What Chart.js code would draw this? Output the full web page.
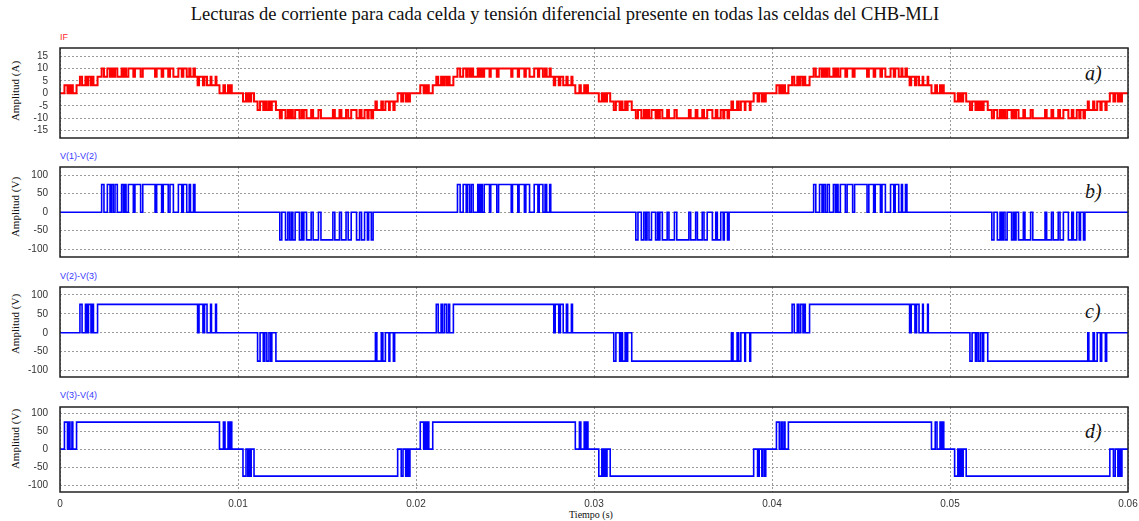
<!DOCTYPE html>
<html>
<head>
<meta charset="utf-8">
<script src="https://cdn.jsdelivr.net/npm/chart.js@4.4.1/dist/chart.umd.min.js"></script>
<style>
  body { margin: 0; width: 1139px; height: 521px; background: #fff; position: relative; overflow: hidden; }
  canvas { position: absolute; left: 0; }
  .txt { position: absolute; white-space: nowrap; }
  .serie { font: 9px 'Liberation Sans', Arial, sans-serif; left: 60px; }
  .letra { font: italic 20px 'Liberation Serif', 'Times New Roman', serif; left: 1085px; line-height: 20px; color: #111; }
  .ytit { font: 11px 'Liberation Serif', 'Times New Roman', serif; left: 15px; transform: translate(-50%, -50%) rotate(-90deg); color: #111; }
</style>
</head>
<body>
<div class="txt" style="left:565px; top:14px; transform:translate(-50%,-50%); font:18.5px 'Liberation Serif','Times New Roman',serif; color:#111;">Lecturas de corriente para cada celda y tensión diferencial presente en todas las celdas del CHB-MLI</div>

<div class="txt serie" style="top:32px; color:#ff2a2a;">IF</div>
<div class="txt serie" style="top:151px; color:#3a3aff;">V(1)-V(2)</div>
<div class="txt serie" style="top:271px; color:#3a3aff;">V(2)-V(3)</div>
<div class="txt serie" style="top:390px; color:#3a3aff;">V(3)-V(4)</div>

<div class="txt ytit" style="top:91px;">Amplitud (A)</div>
<div class="txt ytit" style="top:207px;">Amplitud (V)</div>
<div class="txt ytit" style="top:324px;">Amplitud (V)</div>
<div class="txt ytit" style="top:439px;">Amplitud (V)</div>

<div class="txt letra" style="top:63px;">a)</div>
<div class="txt letra" style="top:181px;">b)</div>
<div class="txt letra" style="top:301px;">c)</div>
<div class="txt letra" style="top:421px;">d)</div>

<div class="txt" style="left:591px; top:514px; transform:translate(-50%,-50%); font:10px 'Liberation Serif','Times New Roman',serif; color:#111;">Tiempo (s)</div>

<canvas id="panel-a" width="1139" height="110" style="top:38px"></canvas>
<canvas id="panel-b" width="1139" height="110" style="top:157px"></canvas>
<canvas id="panel-c" width="1139" height="110" style="top:277px"></canvas>
<canvas id="panel-d" width="1139" height="115" style="top:397px"></canvas>

<script>
// Eje de tiempo (s) y marcas de los ejes
const tiempoTicks = [0, 0.01, 0.02, 0.03, 0.04, 0.05, 0.06];
const ticksCorriente = [-15, -10, -5, 0, 5, 10, 15];
const ticksTension = [-100, -50, 0, 50, 100];

// Tensión de cada celda (V) y signo de cada semiciclo
const nivelCelda = 75;
const signoSemiciclo = [1, -1, 1, -1, 1, -1];

// Instantes de conmutación (ms) por semiciclo: cada instante cambia la celda entre 0 y ±75 V
const conmV12 = [
    [2.34, 2.47, 2.66, 2.81, 2.89, 2.99, 3.09, 3.22, 3.46, 3.56, 3.62, 3.71, 3.84, 4.12, 4.21, 4.53, 4.65, 5.34, 5.43, 5.71, 5.80, 6.08, 6.18, 6.37, 6.65, 6.84, 6.93, 7.12, 7.26, 7.33, 7.50, 7.58],
    [12.35, 12.46, 12.67, 12.80, 12.90, 13.00, 13.08, 13.21, 13.45, 13.57, 13.63, 13.70, 13.85, 14.11, 14.22, 14.52, 14.66, 15.33, 15.44, 15.70, 15.81, 16.07, 16.19, 16.36, 16.66, 16.83, 16.94, 17.11, 17.27, 17.34, 17.49, 17.59],
    [22.33, 22.48, 22.65, 22.82, 22.88, 23.00, 23.10, 23.21, 23.47, 23.55, 23.63, 23.72, 23.83, 24.13, 24.20, 24.54, 24.64, 25.35, 25.42, 25.72, 25.79, 26.09, 26.17, 26.38, 26.64, 26.85, 26.92, 27.13, 27.25, 27.34, 27.51, 27.57],
    [32.35, 32.47, 32.66, 32.80, 32.90, 32.98, 33.09, 33.23, 33.46, 33.57, 33.62, 33.70, 33.84, 34.11, 34.21, 34.52, 34.65, 35.33, 35.43, 35.71, 35.81, 36.08, 36.18, 36.36, 36.65, 36.84, 36.93, 37.12, 37.26, 37.32, 37.50, 37.59],
    [42.34, 42.46, 42.67, 42.81, 42.89, 42.99, 43.10, 43.22, 43.45, 43.56, 43.63, 43.71, 43.84, 44.12, 44.22, 44.53, 44.64, 45.34, 45.44, 45.71, 45.80, 46.09, 46.18, 46.37, 46.66, 46.84, 46.92, 47.12, 47.27, 47.33, 47.50, 47.58],
    [52.35, 52.47, 52.66, 52.81, 52.90, 52.99, 53.09, 53.21, 53.46, 53.56, 53.62, 53.71, 53.85, 54.12, 54.21, 54.53, 54.65, 55.34, 55.43, 55.70, 55.80, 56.08, 56.18, 56.37, 56.65, 56.84, 56.93, 57.12, 57.26, 57.33, 57.50, 57.58]
];
const conmV23 = [
    [1.12, 1.24, 1.43, 1.52, 1.60, 1.74, 1.83, 1.88, 2.11, 7.73, 7.81, 8.03, 8.12, 8.26, 8.46, 8.51, 8.74, 8.79],
    [11.10, 11.24, 11.42, 11.51, 11.62, 11.74, 11.84, 11.90, 12.13, 17.72, 17.80, 18.05, 18.14, 18.28, 18.48, 18.53, 18.73, 18.80],
    [21.14, 21.25, 21.41, 21.50, 21.61, 21.73, 21.84, 21.89, 22.10, 27.74, 27.82, 28.02, 28.11, 28.27, 28.45, 28.52, 28.73, 28.79],
    [31.11, 31.23, 31.44, 31.53, 31.60, 31.75, 31.82, 31.89, 32.12, 37.72, 37.81, 38.04, 38.13, 38.25, 38.47, 38.51, 38.75, 38.80],
    [41.13, 41.25, 41.42, 41.51, 41.61, 41.74, 41.83, 41.87, 42.11, 47.73, 47.82, 48.03, 48.12, 48.26, 48.46, 48.50, 48.74, 48.78],
    [51.12, 51.24, 51.43, 51.52, 51.62, 51.73, 51.84, 51.89, 52.12, 57.74, 57.80, 58.04, 58.11, 58.27, 58.45, 58.52, 58.73, 58.80]
];
const conmV34 = [
    [0.25, 0.42, 0.51, 0.56, 0.67, 0.72, 0.93, 8.96, 9.18, 9.27, 9.44, 9.49, 9.58, 9.65],
    [10.28, 10.45, 10.55, 10.61, 10.68, 10.74, 10.90, 18.97, 19.17, 19.27, 19.42, 19.50, 19.59, 19.66],
    [20.24, 20.43, 20.52, 20.57, 20.66, 20.72, 20.94, 28.95, 29.18, 29.26, 29.45, 29.50, 29.58, 29.66],
    [30.27, 30.44, 30.53, 30.60, 30.68, 30.73, 30.91, 38.97, 39.19, 39.28, 39.43, 39.49, 39.59, 39.65],
    [40.25, 40.41, 40.51, 40.57, 40.67, 40.73, 40.92, 48.96, 49.17, 49.27, 49.44, 49.50, 49.57, 49.65],
    [50.26, 50.44, 50.53, 50.59, 50.68, 50.74, 50.91, 58.98, 59.18, 59.28, 59.43, 59.50, 59.59, 59.66]
];

// Corriente IF: [instante (ms), nivel (A)] desde ese instante
const corrienteIF = [
    [0.25,3.3],[0.42,0],[0.51,3.3],[0.56,0],[0.67,3.3],[0.72,0],[0.93,3.3],
    [1.12,6.7],[1.24,3.3],[1.43,6.7],[1.52,3.3],[1.60,6.7],[1.74,3.3],[1.83,6.7],[1.88,3.3],[2.11,6.7],
    [2.34,10],[2.47,6.7],[2.66,10],[2.81,6.7],[2.89,10],[2.99,6.7],[3.09,10],[3.22,6.7],[3.46,10],[3.56,6.7],[3.62,10],[3.71,6.7],[3.84,10],[4.12,6.7],[4.21,10],[4.53,6.7],[4.65,10],[5.34,6.7],[5.43,10],[5.71,6.7],[5.80,10],[6.08,6.7],[6.18,10],[6.37,6.7],[6.65,10],[6.84,6.7],[6.93,10],[7.12,6.7],[7.26,10],[7.33,6.7],[7.50,10],[7.58,6.7],
    [7.73,3.3],[7.81,6.7],[8.03,3.3],[8.12,6.7],[8.26,3.3],[8.46,6.7],[8.51,3.3],[8.74,6.7],[8.79,3.3],
    [8.96,0],[9.18,3.3],[9.27,0],[9.44,3.3],[9.49,0],[9.58,3.3],[9.65,0],

    [10.28,-3.3],[10.45,0],[10.55,-3.3],[10.61,0],[10.68,-3.3],[10.74,0],[10.90,-3.3],
    [11.10,-6.7],[11.24,-3.3],[11.42,-6.7],[11.51,-3.3],[11.62,-6.7],[11.74,-3.3],[11.84,-6.7],[11.90,-3.3],[12.13,-6.7],
    [12.35,-10],[12.46,-6.7],[12.67,-10],[12.80,-6.7],[12.90,-10],[13.00,-6.7],[13.08,-10],[13.21,-6.7],[13.45,-10],[13.57,-6.7],[13.63,-10],[13.70,-6.7],[13.85,-10],[14.11,-6.7],[14.22,-10],[14.52,-6.7],[14.66,-10],[15.33,-6.7],[15.44,-10],[15.70,-6.7],[15.81,-10],[16.07,-6.7],[16.19,-10],[16.36,-6.7],[16.66,-10],[16.83,-6.7],[16.94,-10],[17.11,-6.7],[17.27,-10],[17.34,-6.7],[17.49,-10],[17.59,-6.7],
    [17.72,-3.3],[17.80,-6.7],[18.05,-3.3],[18.14,-6.7],[18.28,-3.3],[18.48,-6.7],[18.53,-3.3],[18.73,-6.7],[18.80,-3.3],
    [18.97,0],[19.17,-3.3],[19.27,0],[19.42,-3.3],[19.50,0],[19.59,-3.3],[19.66,0],

    [20.24,3.3],[20.43,0],[20.52,3.3],[20.57,0],[20.66,3.3],[20.72,0],[20.94,3.3],
    [21.14,6.7],[21.25,3.3],[21.41,6.7],[21.50,3.3],[21.61,6.7],[21.73,3.3],[21.84,6.7],[21.89,3.3],[22.10,6.7],
    [22.33,10],[22.48,6.7],[22.65,10],[22.82,6.7],[22.88,10],[23.00,6.7],[23.10,10],[23.21,6.7],[23.47,10],[23.55,6.7],[23.63,10],[23.72,6.7],[23.83,10],[24.13,6.7],[24.20,10],[24.54,6.7],[24.64,10],[25.35,6.7],[25.42,10],[25.72,6.7],[25.79,10],[26.09,6.7],[26.17,10],[26.38,6.7],[26.64,10],[26.85,6.7],[26.92,10],[27.13,6.7],[27.25,10],[27.34,6.7],[27.51,10],[27.57,6.7],
    [27.74,3.3],[27.82,6.7],[28.02,3.3],[28.11,6.7],[28.27,3.3],[28.45,6.7],[28.52,3.3],[28.73,6.7],[28.79,3.3],
    [28.95,0],[29.18,3.3],[29.26,0],[29.45,3.3],[29.50,0],[29.58,3.3],[29.66,0],

    [30.27,-3.3],[30.44,0],[30.53,-3.3],[30.60,0],[30.68,-3.3],[30.73,0],[30.91,-3.3],
    [31.11,-6.7],[31.23,-3.3],[31.44,-6.7],[31.53,-3.3],[31.60,-6.7],[31.75,-3.3],[31.82,-6.7],[31.89,-3.3],[32.12,-6.7],
    [32.35,-10],[32.47,-6.7],[32.66,-10],[32.80,-6.7],[32.90,-10],[32.98,-6.7],[33.09,-10],[33.23,-6.7],[33.46,-10],[33.57,-6.7],[33.62,-10],[33.70,-6.7],[33.84,-10],[34.11,-6.7],[34.21,-10],[34.52,-6.7],[34.65,-10],[35.33,-6.7],[35.43,-10],[35.71,-6.7],[35.81,-10],[36.08,-6.7],[36.18,-10],[36.36,-6.7],[36.65,-10],[36.84,-6.7],[36.93,-10],[37.12,-6.7],[37.26,-10],[37.32,-6.7],[37.50,-10],[37.59,-6.7],
    [37.72,-3.3],[37.81,-6.7],[38.04,-3.3],[38.13,-6.7],[38.25,-3.3],[38.47,-6.7],[38.51,-3.3],[38.75,-6.7],[38.80,-3.3],
    [38.97,0],[39.19,-3.3],[39.28,0],[39.43,-3.3],[39.49,0],[39.59,-3.3],[39.65,0],

    [40.25,3.3],[40.41,0],[40.51,3.3],[40.57,0],[40.67,3.3],[40.73,0],[40.92,3.3],
    [41.13,6.7],[41.25,3.3],[41.42,6.7],[41.51,3.3],[41.61,6.7],[41.74,3.3],[41.83,6.7],[41.87,3.3],[42.11,6.7],
    [42.34,10],[42.46,6.7],[42.67,10],[42.81,6.7],[42.89,10],[42.99,6.7],[43.10,10],[43.22,6.7],[43.45,10],[43.56,6.7],[43.63,10],[43.71,6.7],[43.84,10],[44.12,6.7],[44.22,10],[44.53,6.7],[44.64,10],[45.34,6.7],[45.44,10],[45.71,6.7],[45.80,10],[46.09,6.7],[46.18,10],[46.37,6.7],[46.66,10],[46.84,6.7],[46.92,10],[47.12,6.7],[47.27,10],[47.33,6.7],[47.50,10],[47.58,6.7],
    [47.73,3.3],[47.82,6.7],[48.03,3.3],[48.12,6.7],[48.26,3.3],[48.46,6.7],[48.50,3.3],[48.74,6.7],[48.78,3.3],
    [48.96,0],[49.17,3.3],[49.27,0],[49.44,3.3],[49.50,0],[49.57,3.3],[49.65,0],

    [50.26,-3.3],[50.44,0],[50.53,-3.3],[50.59,0],[50.68,-3.3],[50.74,0],[50.91,-3.3],
    [51.12,-6.7],[51.24,-3.3],[51.43,-6.7],[51.52,-3.3],[51.62,-6.7],[51.73,-3.3],[51.84,-6.7],[51.89,-3.3],[52.12,-6.7],
    [52.35,-10],[52.47,-6.7],[52.66,-10],[52.81,-6.7],[52.90,-10],[52.99,-6.7],[53.09,-10],[53.21,-6.7],[53.46,-10],[53.56,-6.7],[53.62,-10],[53.71,-6.7],[53.85,-10],[54.12,-6.7],[54.21,-10],[54.53,-6.7],[54.65,-10],[55.34,-6.7],[55.43,-10],[55.70,-6.7],[55.80,-10],[56.08,-6.7],[56.18,-10],[56.37,-6.7],[56.65,-10],[56.84,-6.7],[56.93,-10],[57.12,-6.7],[57.26,-10],[57.33,-6.7],[57.50,-10],[57.58,-6.7],
    [57.74,-3.3],[57.80,-6.7],[58.04,-3.3],[58.11,-6.7],[58.27,-3.3],[58.45,-6.7],[58.52,-3.3],[58.73,-6.7],[58.80,-3.3],
    [58.98,0],[59.18,-3.3],[59.28,0],[59.43,-3.3],[59.50,0],[59.59,-3.3],[59.66,0]
];

// Convierte los instantes de conmutación en puntos escalonados (x en s)
function pasosCelda(semiciclos) {
    const pts = [{ x: 0, y: 0 }];
    semiciclos.forEach((tiempos, k) => {
        tiempos.forEach((t, i) => {
            pts.push({ x: t / 1000, y: i % 2 === 0 ? signoSemiciclo[k] * nivelCelda : 0 });
        });
    });
    pts.push({ x: 0.06, y: 0 });
    return pts;
}

function pasosCorriente(pares) {
    const pts = [{ x: 0, y: 0 }];
    pares.forEach(([t, a]) => pts.push({ x: t / 1000, y: a }));
    pts.push({ x: 0.06, y: 0 });
    return pts;
}

// Marco negro alrededor del área de trazado
const marcoPlugin = {
    id: 'marco',
    afterDraw(chart) {
        const { ctx, chartArea: a } = chart;
        ctx.save();
        ctx.strokeStyle = '#222';
        ctx.lineWidth = 1.5;
        ctx.strokeRect(a.left, a.top, a.right - a.left, a.bottom - a.top);
        ctx.restore();
    }
};

const fuenteTicks = { family: "'Liberation Sans', Arial, sans-serif", size: 10 };

function crearPanel(id, datos, color, grosor, rango, ticksY, conTiempo) {
    const ctx = document.getElementById(id);
    return new Chart(ctx, {
        type: 'line',
        data: {
            datasets: [{
                data: datos,
                borderColor: color,
                borderWidth: grosor,
                pointRadius: 0,
                stepped: true,
                fill: false
            }]
        },
        options: {
            responsive: false,
            animation: false,
            events: [],
            layout: { padding: { left: 0, right: 11, top: 10, bottom: conTiempo ? 0 : 10 } },
            plugins: { legend: { display: false }, tooltip: { enabled: false } },
            scales: {
                x: {
                    type: 'linear',
                    min: 0,
                    max: 0.06,
                    afterBuildTicks: s => { s.ticks = tiempoTicks.map(v => ({ value: v })); },
                    afterFit: s => { s.height = conTiempo ? 20 : 0; s.paddingLeft = 0; s.paddingRight = 0; },
                    ticks: {
                        display: conTiempo,
                        padding: 6,
                        color: '#333',
                        font: fuenteTicks,
                        maxRotation: 0,
                        autoSkip: false,
                        callback: v => v === 0 ? '0' : v.toFixed(2)
                    },
                    grid: { color: '#9a9a9a', lineWidth: 1, drawTicks: false },
                    border: { display: false, dash: [2, 2] }
                },
                y: {
                    min: rango[0],
                    max: rango[1],
                    afterBuildTicks: s => { s.ticks = ticksY.map(v => ({ value: v })); },
                    afterFit: s => { s.width = 60; s.paddingTop = 0; s.paddingBottom = 0; },
                    ticks: { padding: 12, color: '#333', font: fuenteTicks, callback: v => String(v) },
                    grid: { color: '#9a9a9a', lineWidth: 1, drawTicks: false },
                    border: { display: false, dash: [2, 2] }
                }
            }
        },
        plugins: [marcoPlugin]
    });
}

crearPanel('panel-a', pasosCorriente(corrienteIF), '#ff0000', 2, [-18, 18.3], ticksCorriente, false);
crearPanel('panel-b', pasosCelda(conmV12), '#0000ff', 1.6, [-121.5, 122.5], ticksTension, false);
crearPanel('panel-c', pasosCelda(conmV23), '#0000ff', 1.6, [-117, 121], ticksTension, false);
crearPanel('panel-d', pasosCelda(conmV34), '#0000ff', 1.6, [-119, 117], ticksTension, true);
</script>
</body>
</html>
